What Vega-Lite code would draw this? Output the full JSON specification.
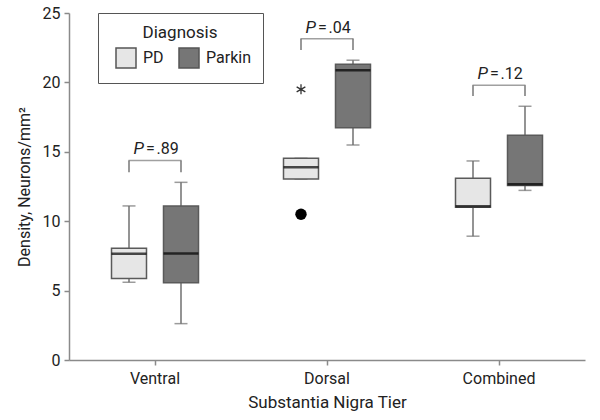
{
  "$schema": "https://vega.github.io/schema/vega-lite/v6.json",
  "width": 516,
  "height": 347,
  "autosize": "none",
  "padding": {"left": 69, "top": 13, "right": 15, "bottom": 60},
  "background": "white",
  "config": {
    "font": "Roboto",
    "view": {"stroke": null},
    "axis": {
      "domainColor": "#8a8a8a", "domainWidth": 1.5,
      "tickColor": "#8a8a8a", "tickWidth": 1.5, "tickSize": 5,
      "labelFont": "Roboto", "labelFontSize": 16, "labelColor": "#222",
      "titleFont": "Roboto", "titleFontSize": 17, "titleFontWeight": "normal", "titleColor": "#222",
      "grid": false
    }
  },
  "datasets": {
    "boxes": [
      {"Tier": "Ventral", "Diagnosis": "PD", "lower": 5.6, "q1": 5.88, "median": 7.65, "q3": 8.05, "upper": 11.1},
      {"Tier": "Ventral", "Diagnosis": "Parkin", "lower": 2.62, "q1": 5.57, "median": 7.68, "q3": 11.1, "upper": 12.8},
      {"Tier": "Dorsal", "Diagnosis": "PD", "lower": 13.04, "q1": 13.04, "median": 13.88, "q3": 14.53, "upper": 14.53},
      {"Tier": "Dorsal", "Diagnosis": "Parkin", "lower": 15.49, "q1": 16.74, "median": 20.87, "q3": 21.3, "upper": 21.6},
      {"Tier": "Combined", "Diagnosis": "PD", "lower": 8.92, "q1": 11.0, "median": 11.07, "q3": 13.09, "upper": 14.34},
      {"Tier": "Combined", "Diagnosis": "Parkin", "lower": 12.22, "q1": 12.58, "median": 12.66, "q3": 16.19, "upper": 18.28}
    ],
    "outliers": [
      {"Tier": "Dorsal", "Diagnosis": "PD", "value": 10.5, "kind": "outlier"},
      {"Tier": "Dorsal", "Diagnosis": "PD", "value": 19.5, "kind": "extreme"}
    ],
    "brackets": [
      {"Tier": "Ventral", "Diagnosis": "PD", "top": 14.38, "bottom": 13.52},
      {"Tier": "Ventral", "Diagnosis": "Parkin", "top": 14.38, "bottom": 13.52},
      {"Tier": "Dorsal", "Diagnosis": "PD", "top": 23.15, "bottom": 22.33},
      {"Tier": "Dorsal", "Diagnosis": "Parkin", "top": 23.15, "bottom": 22.33},
      {"Tier": "Combined", "Diagnosis": "PD", "top": 19.8, "bottom": 19.02},
      {"Tier": "Combined", "Diagnosis": "Parkin", "top": 19.8, "bottom": 19.02}
    ],
    "pvals": [
      {"Tier": "Ventral", "p": "=\u200a.89", "top": 14.38, "textY": 14.82},
      {"Tier": "Dorsal", "p": "=\u200a.04", "top": 23.15, "textY": 23.58},
      {"Tier": "Combined", "p": "=\u200a.12", "top": 19.8, "textY": 20.23}
    ]
  },
  "layer": [
    {
      "data": {"name": "boxes"},
      "mark": {"type": "rule", "color": "#707070", "strokeWidth": 1.5},
      "encoding": {
        "x": {
          "field": "Tier", "type": "nominal",
          "scale": {"domain": ["Ventral", "Dorsal", "Combined"], "paddingInner": 0, "paddingOuter": 0},
          "axis": {"title": "Substantia Nigra Tier", "labelAngle": 0, "labelPadding": 5, "titlePadding": 8}
        },
        "xOffset": {
          "field": "Diagnosis", "type": "nominal",
          "scale": {"domain": ["PD", "Parkin"], "paddingInner": 0, "paddingOuter": 0.654}
        },
        "y": {
          "field": "lower", "type": "quantitative",
          "scale": {"domain": [0, 25], "nice": false},
          "axis": {"title": "Density, Neurons/mm²", "titleFontSize": 16, "values": [0, 5, 10, 15, 20, 25], "labelPadding": 4, "titlePadding": 10}
        },
        "y2": {"field": "upper"}
      }
    },
    {
      "data": {"name": "boxes"},
      "mark": {"type": "tick", "color": "#707070", "size": 13, "thickness": 1.5, "orient": "horizontal"},
      "encoding": {
        "x": {"field": "Tier", "type": "nominal"},
        "xOffset": {"field": "Diagnosis", "type": "nominal"},
        "y": {"field": "lower", "type": "quantitative"}
      }
    },
    {
      "data": {"name": "boxes"},
      "mark": {"type": "tick", "color": "#707070", "size": 13, "thickness": 1.5, "orient": "horizontal"},
      "encoding": {
        "x": {"field": "Tier", "type": "nominal"},
        "xOffset": {"field": "Diagnosis", "type": "nominal"},
        "y": {"field": "upper", "type": "quantitative"}
      }
    },
    {
      "data": {"name": "boxes"},
      "mark": {"type": "bar", "width": 35, "stroke": "#5a5a5a", "strokeWidth": 1.5},
      "encoding": {
        "x": {"field": "Tier", "type": "nominal"},
        "xOffset": {"field": "Diagnosis", "type": "nominal"},
        "y": {"field": "q1", "type": "quantitative"},
        "y2": {"field": "q3"},
        "fill": {
          "field": "Diagnosis", "type": "nominal",
          "scale": {"domain": ["PD", "Parkin"], "range": ["#e6e6e6", "#767676"]},
          "legend": {
            "orient": "none", "legendX": 29, "legendY": 0, "direction": "horizontal",
            "gridAlign": "none",
            "title": "Diagnosis", "titleAnchor": "middle", "titleFontSize": 17, "titleFontWeight": "normal",
            "titleColor": "#222", "titlePadding": 5,
            "labelFontSize": 16, "labelColor": "#222", "labelOffset": 6, "columnPadding": 9,
            "symbolType": "square", "symbolSize": 400, "symbolStrokeColor": "#555", "symbolStrokeWidth": 1.5,
            "symbolOffset": 5,
            "strokeColor": "#555", "fillColor": "white", "padding": 12
          }
        }
      }
    },
    {
      "data": {"name": "boxes"},
      "mark": {"type": "tick", "color": "#000", "size": 35, "thickness": 2.5, "orient": "horizontal"},
      "encoding": {
        "x": {"field": "Tier", "type": "nominal"},
        "xOffset": {"field": "Diagnosis", "type": "nominal"},
        "y": {"field": "median", "type": "quantitative"}
      }
    },
    {
      "data": {"name": "outliers"},
      "transform": [{"filter": "datum.kind === 'outlier'"}],
      "mark": {"type": "point", "shape": "circle", "filled": true, "color": "#000", "size": 130, "opacity": 1},
      "encoding": {
        "x": {"field": "Tier", "type": "nominal"},
        "xOffset": {"field": "Diagnosis", "type": "nominal"},
        "y": {"field": "value", "type": "quantitative"}
      }
    },
    {
      "data": {"name": "outliers"},
      "transform": [{"filter": "datum.kind === 'extreme'"}],
      "mark": {"type": "point", "shape": "M0,-1L0,1M-0.87,-0.5L0.87,0.5M-0.87,0.5L0.87,-0.5", "filled": false, "stroke": "#333", "strokeWidth": 1.3, "size": 100, "opacity": 1},
      "encoding": {
        "x": {"field": "Tier", "type": "nominal"},
        "xOffset": {"field": "Diagnosis", "type": "nominal"},
        "y": {"field": "value", "type": "quantitative"}
      }
    },
    {
      "data": {"name": "brackets"},
      "mark": {"type": "rule", "color": "#777", "strokeWidth": 1.5},
      "encoding": {
        "x": {"field": "Tier", "type": "nominal"},
        "xOffset": {"field": "Diagnosis", "type": "nominal"},
        "y": {"field": "bottom", "type": "quantitative"},
        "y2": {"field": "top"}
      }
    },
    {
      "data": {"name": "pvals"},
      "mark": {"type": "tick", "color": "#777", "size": 53, "thickness": 1.5, "orient": "horizontal"},
      "encoding": {
        "x": {"field": "Tier", "type": "nominal"},
        "y": {"field": "top", "type": "quantitative"}
      }
    },
    {
      "data": {"name": "pvals"},
      "mark": {"type": "text", "text": "P", "fontStyle": "italic", "fontSize": 17, "align": "right", "baseline": "alphabetic", "dx": -11, "color": "#222"},
      "encoding": {
        "x": {"field": "Tier", "type": "nominal"},
        "y": {"field": "textY", "type": "quantitative"}
      }
    },
    {
      "data": {"name": "pvals"},
      "mark": {"type": "text", "fontSize": 16, "align": "left", "baseline": "alphabetic", "dx": -9, "color": "#222"},
      "encoding": {
        "x": {"field": "Tier", "type": "nominal"},
        "y": {"field": "textY", "type": "quantitative"},
        "text": {"field": "p"}
      }
    }
  ]
}
